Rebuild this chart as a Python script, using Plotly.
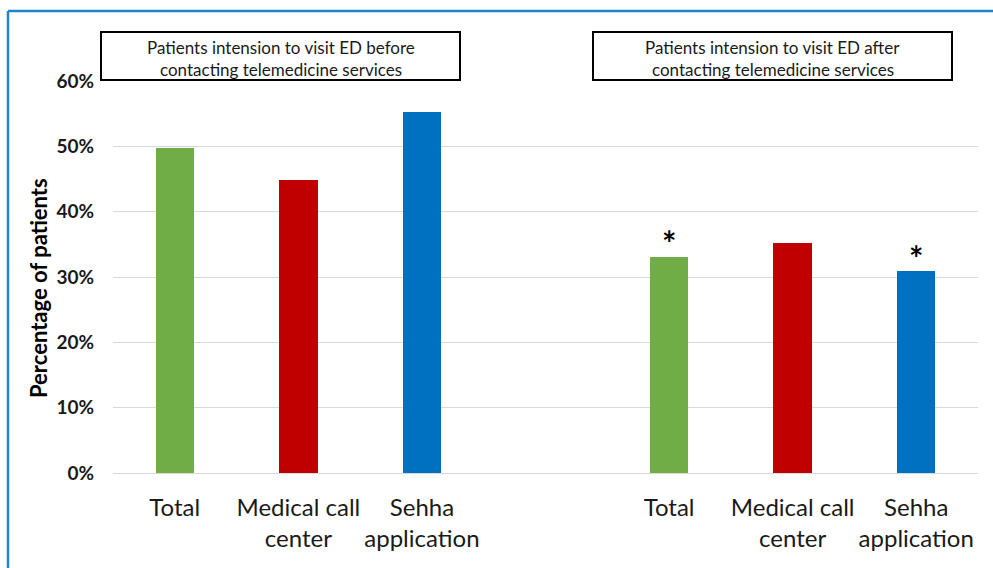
import plotly.graph_objects as go

# Data
categories = ["Total", "Medical call<br>center", "Sehha<br>application"]
before_values = [0.498, 0.448, 0.553]
after_values = [0.331, 0.352, 0.309]
bar_colors = ["#70ad47", "#c00000", "#0070c0"]
group_titles = [["Patients intension to visit ED before", "contacting telemedicine services"],
                ["Patients intension to visit ED after", "contacting telemedicine services"]]
y_title = "Percentage of patients"
significant_after = [True, False, True]
y_ticks = [0, 0.1, 0.2, 0.3, 0.4, 0.5, 0.6]

W, H = 993, 568
ML, MR, MT, MB = 113, 15, 81, 95
PW, PH = W - ML - MR, H - MT - MB

def px_x(x):
    return (x - ML) / PW

def px_y(y):
    return (H - MB - y) / PH

x_before = [0, 1, 2]
x_after = [4, 5, 6]

fig = go.Figure()
fig.add_trace(go.Bar(x=x_before, y=before_values, width=0.31,
                     marker=dict(color=bar_colors, line=dict(width=0)),
                     showlegend=False, hoverinfo="skip"))
fig.add_trace(go.Bar(x=x_after, y=after_values, width=0.31,
                     marker=dict(color=bar_colors, line=dict(width=0)),
                     showlegend=False, hoverinfo="skip"))

FONT = "Lato"

# asterisks
for xv, v, sig in zip(x_after, after_values, significant_after):
    if sig:
        fig.add_annotation(x=xv, y=v, xref="x", yref="y", text="<b>*</b>",
                           showarrow=False, yanchor="middle", yshift=14,
                           font=dict(family=FONT, size=34, color="black"))

# title boxes
boxes = [(101, 460), (593, 952)]
for (bx0, bx1), lines in zip(boxes, group_titles):
    fig.add_shape(type="rect", xref="paper", yref="paper",
                  x0=px_x(bx0), x1=px_x(bx1), y0=px_y(80), y1=px_y(32),
                  line=dict(color="black", width=2), fillcolor="white")
    for ly, t in zip([47.5, 69.5], lines):
        fig.add_annotation(x=px_x((bx0 + bx1) / 2), y=px_y(ly), xref="paper", yref="paper",
                           text=t, showarrow=False, xanchor="center", yanchor="middle",
                           borderpad=0,
                           font=dict(family=FONT, size=17, color="#1a1a1a"))

# y-axis title
fig.add_annotation(x=px_x(38), y=px_y(288), xref="paper", yref="paper",
                   text="<b>" + y_title + "</b>", showarrow=False, textangle=-90,
                   xanchor="center", yanchor="middle",
                   font=dict(family=FONT, size=22, color="black"))

# outer blue frame (top and left edges visible)
frame_color = "#1f87c8"
fig.add_shape(type="line", xref="paper", yref="paper",
              x0=px_x(8), x1=px_x(W + 5), y0=px_y(11), y1=px_y(11),
              line=dict(color=frame_color, width=2.5))
fig.add_shape(type="line", xref="paper", yref="paper",
              x0=px_x(8), x1=px_x(8), y0=px_y(11), y1=px_y(H + 5),
              line=dict(color=frame_color, width=2.5))

fig.update_layout(
    width=W, height=H,
    margin=dict(l=ML, r=MR, t=MT, b=MB),
    plot_bgcolor="white", paper_bgcolor="white",
    bargap=0,
    xaxis=dict(range=[-0.5, 6.5], tickvals=x_before + x_after,
               ticktext=categories + categories, showgrid=False,
               zeroline=False, showline=False, ticks="",
               ticklabelstandoff=18,
               tickfont=dict(family=FONT, size=24, color="#1a1a1a")),
    yaxis=dict(range=[0, 0.6], tickvals=y_ticks, tickformat=".0%",
               showgrid=True, gridcolor="#d9d9d9", gridwidth=1,
               zeroline=True, zerolinecolor="#d9d9d9", zerolinewidth=1,
               showline=False, ticks="", ticklabelstandoff=18,
               tickfont=dict(family=FONT, size=19, color="#1a1a1a", weight="bold")),
)

fig.write_html("out.html")
